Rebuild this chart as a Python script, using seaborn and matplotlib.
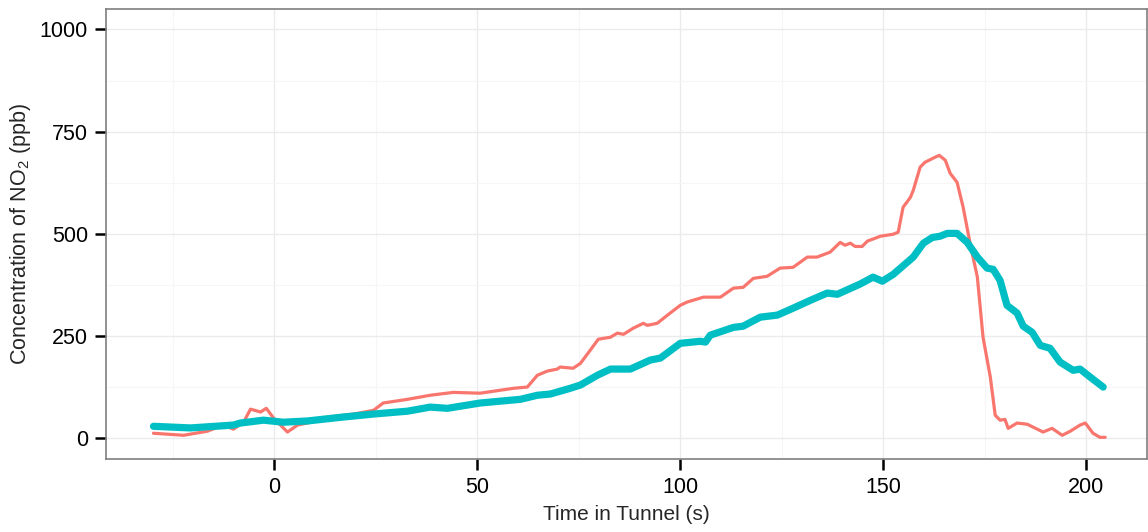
import pandas as pd
import matplotlib
matplotlib.use("Agg")
import matplotlib.pyplot as plt
import seaborn as sns
from matplotlib.ticker import MultipleLocator

# 빨간 선 (얇은 선) - 그림에서 읽은 값
red_time = [-29.8, -22.4, -16.5, -12.6, -10.1, -7.6, -5.9, -3.4, -2.0, -0.2,
            3.2, 5.7, 8.1, 13.1, 19.5, 24.4, 26.8, 32.8, 38.4, 44.1,
            50.7, 58.9, 62.3, 64.8, 67.2, 69.7, 70.4, 73.6, 75.4, 77.8,
            79.8, 82.8, 84.5, 86.0, 88.4, 90.9, 91.9, 94.3, 97.5, 100.0,
            101.7, 105.7, 109.9, 113.1, 115.5, 118.0, 121.4, 124.6, 127.8, 131.3,
            133.7, 136.9, 139.4, 140.6, 141.9, 143.1, 144.8, 146.1, 149.3, 152.5,
            153.7, 154.9, 156.7, 157.4, 159.1, 160.3, 162.3, 163.8, 165.3, 166.5,
            168.2, 169.7, 171.4, 173.2, 174.6, 176.4, 177.6, 178.8, 180.0, 180.8,
            183.0, 185.5, 189.4, 191.6, 194.1, 196.1, 198.5, 199.8, 201.7, 203.4,
            204.7]
red_no2 = [12, 7, 17, 32, 22, 39, 71, 64, 73, 49,
           15, 32, 37, 51, 59, 68, 86, 95, 105, 112,
           110, 122, 125, 154, 164, 169, 174, 171, 183, 215,
           242, 247, 257, 254, 269, 281, 276, 281, 306, 325,
           333, 345, 345, 367, 369, 391, 396, 416, 418, 443,
           443, 455, 479, 472, 477, 469, 469, 482, 494, 499,
           504, 565, 589, 606, 663, 675, 685, 692, 680, 648,
           626, 565, 477, 394, 247, 149, 56, 44, 46, 24,
           37, 34, 15, 24, 7, 17, 32, 37, 12, 2,
           2]

# 청록 선 (굵은 선)
teal_time = [-29.8, -20.7, -10.1, -8.4, -2.7, 2.2, 8.1, 16.3, 24.4, 32.8,
             38.4, 42.6, 50.7, 60.6, 64.8, 68.0, 72.9, 75.4, 79.6, 82.8,
             87.7, 92.6, 95.1, 100.0, 104.9, 106.2, 107.4, 113.1, 115.5, 119.7,
             123.9, 127.8, 132.0, 136.2, 138.7, 144.3, 147.5, 149.8, 152.5, 157.4,
             159.9, 162.1, 164.0, 165.8, 168.2, 170.7, 173.2, 175.6, 177.1, 178.8,
             180.5, 183.0, 184.5, 186.7, 188.7, 191.1, 193.6, 196.8, 198.5, 201.7,
             204.2]
teal_no2 = [29, 25, 32, 37, 44, 39, 42, 51, 59, 66,
            76, 73, 86, 95, 105, 108, 122, 130, 154, 169,
            169, 191, 196, 232, 237, 235, 252, 271, 274, 296,
            301, 318, 337, 355, 352, 377, 394, 384, 401, 443,
            477, 491, 494, 501, 501, 479, 443, 416, 413, 386,
            325, 306, 274, 259, 227, 220, 186, 166, 169, 144,
            125]

red_df = pd.DataFrame({"time": red_time, "no2": red_no2})
teal_df = pd.DataFrame({"time": teal_time, "no2": teal_no2})

sns.set_style("white")
plt.rcParams["font.family"] = ["Liberation Sans", "DejaVu Sans"]
plt.rcParams["mathtext.fontset"] = "custom"
plt.rcParams["mathtext.rm"] = "Liberation Sans"
plt.rcParams["mathtext.it"] = "Liberation Sans"
plt.rcParams["lines.solid_joinstyle"] = "round"

fig = plt.figure(figsize=(11.48, 5.32), dpi=100)
ax = fig.add_axes([106 / 1148, 1 - 459 / 532, 1041 / 1148, 450 / 532])

sns.lineplot(data=red_df, x="time", y="no2", ax=ax, color="#F8766D",
             linewidth=2.3, estimator=None, sort=False)
sns.lineplot(data=teal_df, x="time", y="no2", ax=ax, color="#00BFC4",
             linewidth=5.2, estimator=None, sort=False)

ax.set_xlim(-41.5, 215)
ax.set_ylim(-51, 1050)
ax.xaxis.set_major_locator(MultipleLocator(50))
ax.xaxis.set_minor_locator(MultipleLocator(25))
ax.yaxis.set_major_locator(MultipleLocator(250))
ax.yaxis.set_minor_locator(MultipleLocator(125))

ax.grid(True, which="major", color="#EBEBEB", linewidth=1.0)
ax.grid(True, which="minor", color="#F6F6F6", linewidth=0.8)
ax.set_axisbelow(True)

for s in ax.spines.values():
    s.set_color("#7F7F7F")
    s.set_linewidth(1.2)

ax.tick_params(axis="both", which="major", direction="out", length=8,
               width=1.8, color="black", labelsize=15.5, labelcolor="black", pad=5,
               bottom=True, left=True)
ax.tick_params(axis="both", which="minor", length=0)

ax.set_xlabel("Time in Tunnel (s)", fontsize=15, labelpad=5)
ax.set_ylabel("Concentration of NO$_2$ (ppb)", fontsize=15.5, labelpad=5)

fig.savefig("out.png", dpi=100)
